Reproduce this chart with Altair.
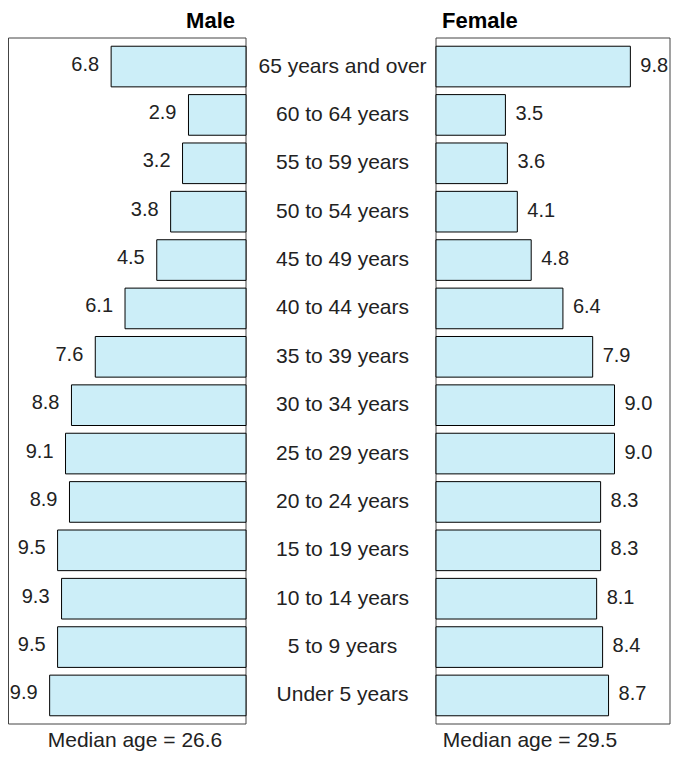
import altair as alt
import pandas as pd

categories = ["65 years and over", "60 to 64 years", "55 to 59 years", "50 to 54 years",
              "45 to 49 years", "40 to 44 years", "35 to 39 years", "30 to 34 years",
              "25 to 29 years", "20 to 24 years", "15 to 19 years", "10 to 14 years",
              "5 to 9 years", "Under 5 years"]
male = [6.8, 2.9, 3.2, 3.8, 4.5, 6.1, 7.6, 8.8, 9.1, 8.9, 9.5, 9.3, 9.5, 9.9]
female = [9.8, 3.5, 3.6, 4.1, 4.8, 6.4, 7.9, 9.0, 9.0, 8.3, 8.3, 8.1, 8.4, 8.7]
male_title = "Male"
female_title = "Female"
male_median = "Median age = 26.6"
female_median = "Median age = 29.5"

df = pd.DataFrame({"age": categories, "male": male, "female": female})
one = pd.DataFrame({"k": [0]})

FONT = "Liberation Sans"
TXT = "#222222"
FILL = "#CCEEF8"
BOX = "#444444"

# layout (pixels inside the plot area)
TOP, BOTTOM = 30, 716
M_L, M_R = 0, 238          # male panel
F_L, F_R = 428, 662        # female panel
PX_PER_UNIT = 238 / 12.0
MID_X = 334.5

y = alt.Y("age:N", sort=categories, axis=None,
          scale=alt.Scale(range=[TOP, BOTTOM], paddingInner=0.16, paddingOuter=0.17))

x_m = alt.X("male:Q", axis=None,
            scale=alt.Scale(domain=[0, 12], range=[M_R, M_L], nice=False, zero=True))
x_f = alt.X("female:Q", axis=None,
            scale=alt.Scale(domain=[0, 10], range=[F_L, F_L + 10 * PX_PER_UNIT],
                            nice=False, zero=True))

base = alt.Chart(df)
single = alt.Chart(one)

male_box = single.mark_rect(fill="white", stroke=BOX, strokeWidth=1).encode(
    x=alt.value(M_L + 0.5), x2=alt.value(M_R), y=alt.value(TOP), y2=alt.value(BOTTOM))
female_box = single.mark_rect(fill="white", stroke=BOX, strokeWidth=1).encode(
    x=alt.value(F_L), x2=alt.value(F_R), y=alt.value(TOP), y2=alt.value(BOTTOM))

male_bars = base.mark_bar(fill=FILL, stroke="#000000", strokeWidth=1).encode(x=x_m, y=y)
male_text = base.mark_text(align="right", baseline="middle", dx=-12, dy=-2, font=FONT,
                           fontSize=20, color=TXT).encode(
    x=x_m, y=y, text=alt.Text("male:Q", format=".1f"))

female_bars = base.mark_bar(fill=FILL, stroke="#000000", strokeWidth=1).encode(x=x_f, y=y)
female_text = base.mark_text(align="left", baseline="middle", dx=10, dy=-1, font=FONT,
                             fontSize=20, color=TXT).encode(
    x=x_f, y=y, text=alt.Text("female:Q", format=".1f"))

cat_text = base.mark_text(align="center", baseline="middle", font=FONT, fontSize=21,
                          color=TXT).encode(y=y, x=alt.value(MID_X), text="age:N")

title_m = single.mark_text(text=male_title, align="right", baseline="alphabetic", font=FONT,
                           fontSize=22, fontWeight="bold", color="#000000").encode(
    x=alt.value(227), y=alt.value(20))
title_f = single.mark_text(text=female_title, align="left", baseline="alphabetic", font=FONT,
                           fontSize=22, fontWeight="bold", color="#000000").encode(
    x=alt.value(434), y=alt.value(20))

med_m = single.mark_text(text=male_median, align="center", baseline="alphabetic", font=FONT,
                         fontSize=21, color=TXT).encode(x=alt.value(127), y=alt.value(739))
med_f = single.mark_text(text=female_median, align="center", baseline="alphabetic", font=FONT,
                         fontSize=21, color=TXT).encode(x=alt.value(522), y=alt.value(739))

chart = alt.layer(
    male_box, female_box, male_bars, female_bars, male_text, female_text, cat_text,
    title_m, title_f, med_m, med_f
).resolve_scale(x="independent").properties(
    width=663, height=746,
    autosize=alt.AutoSizeParams(type="fit", contains="padding"),
    padding=0,
    background="white",
).configure_view(strokeWidth=0)

chart.save("out.html", embed_options={"renderer": "svg", "actions": False})
